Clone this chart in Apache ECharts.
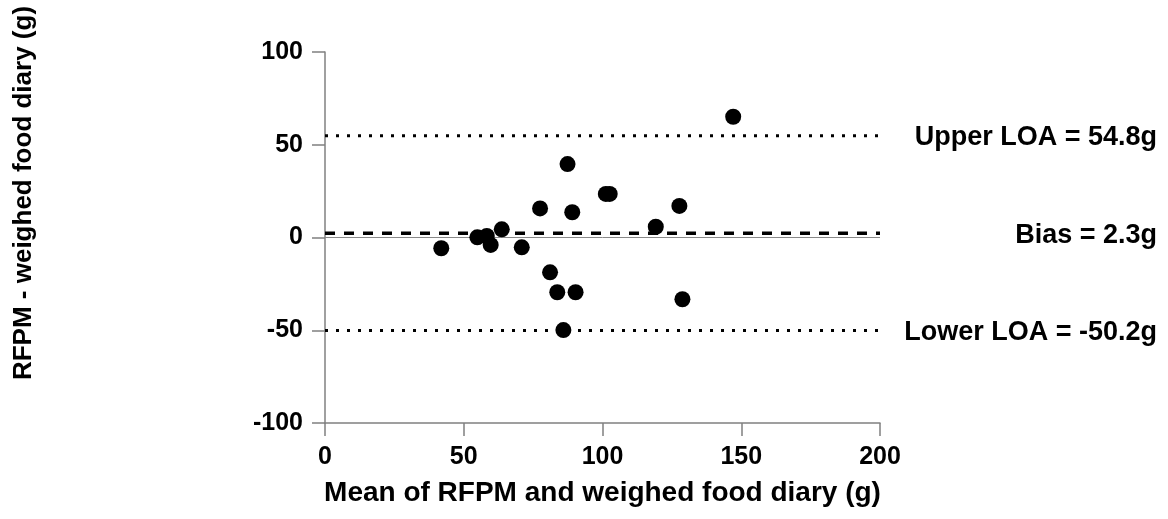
<!DOCTYPE html>
<html>
<head>
<meta charset="utf-8">
<script src="https://cdn.jsdelivr.net/npm/echarts@6/dist/echarts.min.js"></script>
<style>
html, body { margin: 0; padding: 0; background: #fff; }
#chart { width: 1168px; height: 519px; }
</style>
</head>
<body>
<div id="chart"></div>
<script>
// mean of the two methods (x) and their difference (y)
var meanVals = [41.9, 54.9, 58.3, 59.7, 63.7, 70.9, 77.5, 81.1, 83.7, 85.9, 87.4, 89.1, 90.3, 101.2, 102.6, 119.2, 127.7, 128.8, 147.1];
var diffVals = [-5.8, 0.1, 0.8, -4.0, 4.4, -5.3, 15.7, -18.8, -29.5, -49.9, 39.6, 13.6, -29.5, 23.5, 23.5, 5.8, 17.0, -33.3, 65.1];

var bias = 2.3;
var upperLOA = 54.8;
var lowerLOA = -50.2;

var xRange = [0, 200];
var yRange = [-100, 100];

var fontFam = '"Liberation Sans", Arial, sans-serif';
var axisGray = '#808080';

var points = [];
for (var i = 0; i < meanVals.length; i++) {
    points.push([meanVals[i], diffVals[i]]);
}

function hLine(v) {
    return [[xRange[0], v], [xRange[1], v]];
}

var chart = echarts.init(document.getElementById('chart'));

var option = {
    animation: false,
    backgroundColor: '#fff',
    grid: {
        left: 325,
        right: 288,
        top: 52,
        bottom: 96
    },
    xAxis: {
        type: 'value',
        min: xRange[0],
        max: xRange[1],
        interval: 50,
        name: 'Mean of RFPM and weighed food diary (g)',
        nameLocation: 'middle',
        nameGap: 56,
        nameTextStyle: {
            fontFamily: fontFam,
            fontWeight: 'bold',
            fontSize: 28,
            color: '#000'
        },
        axisLine: { onZero: false, lineStyle: { color: axisGray, width: 1.5 } },
        axisTick: { length: 13, lineStyle: { color: axisGray, width: 1.5 } },
        axisLabel: {
            margin: 22,
            fontFamily: fontFam,
            fontWeight: 'bold',
            fontSize: 25,
            color: '#000'
        },
        splitLine: { show: false }
    },
    yAxis: {
        type: 'value',
        min: yRange[0],
        max: yRange[1],
        interval: 50,
        axisLine: { show: true, onZero: false, lineStyle: { color: axisGray, width: 1.5 } },
        axisTick: { show: true, length: 13, lineStyle: { color: axisGray, width: 1.5 } },
        axisLabel: {
            margin: 22,
            fontFamily: fontFam,
            fontWeight: 'bold',
            fontSize: 25,
            color: '#000'
        },
        splitLine: { show: false }
    },
    series: [
        {
            name: 'zero',
            type: 'line',
            data: hLine(0),
            symbol: 'none',
            lineStyle: { color: '#888', width: 1 },
            z: 1
        },
        {
            name: 'bias',
            type: 'line',
            data: hLine(bias),
            symbol: 'none',
            lineStyle: { color: '#000', width: 3.5, type: [10, 9] },
            z: 2
        },
        {
            name: 'upper',
            type: 'line',
            data: hLine(upperLOA),
            symbol: 'none',
            lineStyle: { color: '#000', width: 3, type: [3, 8] },
            z: 2
        },
        {
            name: 'lower',
            type: 'line',
            data: hLine(lowerLOA),
            symbol: 'none',
            lineStyle: { color: '#000', width: 3, type: [3, 8] },
            z: 2
        },
        {
            name: 'diff',
            type: 'scatter',
            data: points,
            symbol: 'circle',
            symbolSize: 16,
            itemStyle: { color: '#000', opacity: 1 },
            z: 5
        }
    ]
};

chart.setOption(option);

// labels on the right, placed at each line's value through the y scale
var labelDefs = [
    { v: upperLOA, text: 'Upper LOA = ' + upperLOA + 'g' },
    { v: bias, text: 'Bias = ' + bias + 'g' },
    { v: lowerLOA, text: 'Lower LOA = ' + lowerLOA + 'g' }
];
var graphics = [];
labelDefs.forEach(function (d) {
    var p = chart.convertToPixel({ gridIndex: 0 }, [xRange[1], d.v]);
    graphics.push({
        type: 'text',
        x: 1157,
        y: p[1] + 2,
        style: {
            text: d.text,
            fontFamily: fontFam,
            fontWeight: 'bold',
            fontSize: 27,
            fill: '#000',
            textAlign: 'right',
            textVerticalAlign: 'middle'
        }
    });
});
graphics.push({
    type: 'text',
    x: 24,
    y: 193,
    rotation: Math.PI / 2,
    style: {
        text: 'RFPM - weighed food diary (g)',
        fontFamily: fontFam,
        fontWeight: 'bold',
        fontSize: 26,
        fill: '#000',
        textAlign: 'center',
        textVerticalAlign: 'middle'
    }
});
chart.setOption({ graphic: graphics });
</script>
</body>
</html>
